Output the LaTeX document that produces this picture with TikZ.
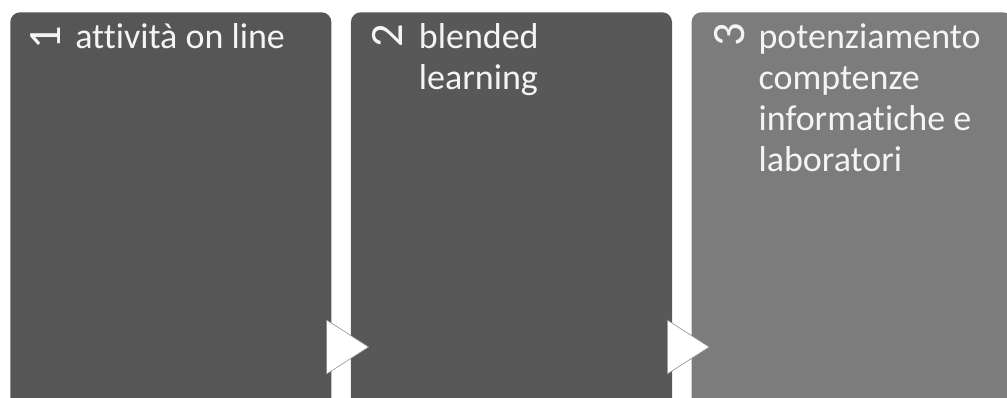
\documentclass[tikz,border=0pt]{standalone}
\usepackage{fontspec}
\setmainfont{Carlito}[Ligatures={NoCommon}]
\usetikzlibrary{positioning, calc}
\definecolor{clrStepA}{HTML}{565656}
\definecolor{clrStepB}{HTML}{585858}
\definecolor{clrStepC}{HTML}{7C7C7C}
\definecolor{clrText}{HTML}{F4F4F4}
\tikzset{
  stepbox/.style = {rectangle, rounded corners=7pt, minimum width=8.025cm, minimum height=10cm,
                    inner sep=0pt, fill=#1},
  stepnum/.style = {rotate=90, inner sep=0pt, font=\fontsize{33}{36}\selectfont, text=clrText},
  steptext/.style = {anchor=north west, inner sep=0pt, align=flush left, text width=6.4cm,
                     font=\fontsize{25.6}{29.2}\selectfont, text=clrText},
  nexttip/.style = {fill=white, draw=black!45, line width=0.4pt},
}

\begin{document}
\begin{tikzpicture}[x=0.025cm, y=-0.025cm]
\useasboundingbox (0,0) rectangle (1007,397);
\clip (0,0) rectangle (1007,397);

% the three steps
\node[stepbox=clrStepA, anchor=north west] (stepA) at (10,12) {};
\node[stepbox=clrStepB, right=0.475cm of stepA] (stepB) {};
\node[stepbox=clrStepC, right=0.475cm of stepB] (stepC) {};

% numbers
\node[stepnum] (numA) at ($(stepA.north west)+(36,26)$) {1};
\node[stepnum] (numB) at ($(stepB.north west)+(37,24)$) {2};
\node[stepnum] (numC) at ($(stepC.north west)+(38,23)$) {3};

% texts
\node[steptext] (txtA) at ($(stepA.north west)+(65,7)$) {\strut attività on line};
\node[steptext] (txtB) at ($(stepB.north west)+(68,7)$) {\strut blended\\learning};
\node[steptext] (txtC) at ($(stepC.north west)+(67,7)$) {\strut potenziamento\\comptenze\\informatiche e\\laboratori};

% arrow tips between steps
\filldraw[nexttip] ($(stepA.north east)+(-5,308)$) -- ++(42,27) -- ++(-42,27) -- cycle;
\filldraw[nexttip] ($(stepB.north east)+(-5,308)$) -- ++(42,27) -- ++(-42,27) -- cycle;
\end{tikzpicture}
\end{document}
